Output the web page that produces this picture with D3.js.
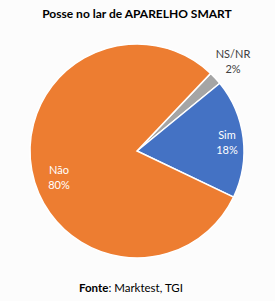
<!DOCTYPE html>
<html><head><meta charset="utf-8">
<script src="https://cdn.jsdelivr.net/npm/d3@7"></script>
<style>body{margin:0;background:#fcfcfc;}svg{display:block;font-family:Lato,"Open Sans",sans-serif;}</style>
</head><body>
<script>
const categories = ["NS/NR", "Sim", "Não"];
const values = [2, 18, 80];
const labels = ["2%", "18%", "80%"];
const colors = ["#A5A5A5", "#4472C4", "#ED7D31"];
const title = "Posse no lar de APARELHO  SMART";

const W = 275, H = 301, cx = 137, cy = 151, r = 107;
const svg = d3.select("body").append("svg").attr("width", W).attr("height", H);
svg.append("rect").attr("width", W).attr("height", H).attr("fill", "#fcfcfc");

svg.append("text").attr("x", 137).attr("y", 18).attr("text-anchor", "middle")
  .attr("font-weight", "bold").attr("font-size", 12).attr("fill", "#000").text(title);

const start = 43.5 * Math.PI / 180;
const pie = d3.pie().sort(null).value(d => d).startAngle(start).endAngle(start + 2 * Math.PI);
const arcs = pie(values);
const arc = d3.arc().innerRadius(0).outerRadius(r);
const g = svg.append("g").attr("transform", `translate(${cx},${cy})`);
g.selectAll("path").data(arcs).join("path").attr("d", arc)
  .attr("fill", (d, i) => colors[i]).attr("stroke", "#fff").attr("stroke-width", 1.5);

const labelPos = [[96, -93], [90, -12], [-78, 23]];
const textColors = ["#404040", "#fff", "#fff"];
categories.forEach((c, i) => {
  const t = g.append("text").attr("text-anchor", "middle").attr("font-size", 11).attr("fill", textColors[i]);
  t.append("tspan").attr("x", labelPos[i][0]).attr("y", labelPos[i][1]).text(c);
  t.append("tspan").attr("x", labelPos[i][0]).attr("y", labelPos[i][1] + 15).text(labels[i]);
});

const f = svg.append("text").attr("x", 131).attr("y", 292).attr("text-anchor", "middle").attr("font-size", 11.5).attr("fill", "#000");
f.append("tspan").attr("font-weight", "bold").text("Fonte");
f.append("tspan").text(": Marktest, TGI");
</script>
</body></html>
